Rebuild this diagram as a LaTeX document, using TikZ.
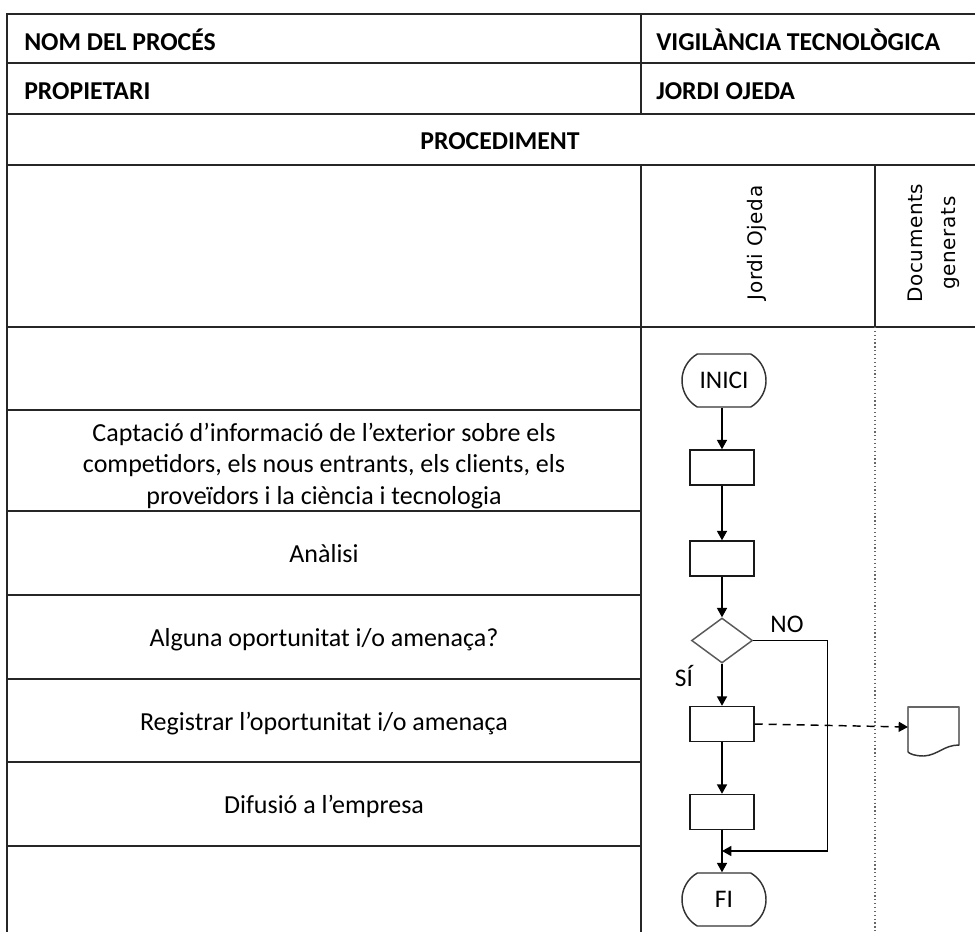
\documentclass[tikz,border=0pt]{standalone}
\usepackage{fontspec}
\setmainfont{Carlito}
\newfontfamily\lanefont[LetterSpace=3]{DejaVu Sans}
\usetikzlibrary{arrows.meta,shapes.geometric,shapes.misc}

\begin{document}
\begin{tikzpicture}[x=0.75pt,y=-0.75pt,
  grid/.style={line width=1.3pt, draw=black!85},
  lanesep/.style={line width=0.9pt, draw=black!60, dotted},
  hdr/.style={font=\fontsize{19.3pt}{22pt}\selectfont\bfseries, inner sep=0pt},
  task/.style={font=\fontsize{19.5pt}{23.6pt}\selectfont, align=center, inner sep=0pt},
  lane/.style={font=\lanefont\fontsize{15pt}{24.75pt}\selectfont, rotate=90, align=center, inner sep=0pt},
  procbox/.style={draw=black!90, line width=1.1pt, rectangle, minimum width=48pt, minimum height=26.25pt, inner sep=0pt},
  termbox/.style={draw=black!80, line width=1.1pt, rounded rectangle, rounded rectangle arc length=120,
    minimum width=63pt, minimum height=39.75pt, inner sep=0pt, font=\fontsize{19pt}{22pt}\selectfont},
  decbox/.style={draw=black!65, line width=1.1pt, diamond, minimum width=45.75pt, minimum height=33.75pt, inner sep=0pt},
  flow/.style={line width=1.1pt, draw=black, -{Triangle[length=7pt,width=7.5pt]}},
  docflow/.style={line width=1.1pt, draw=black, dashed, dash pattern=on 6pt off 4.5pt, -{Triangle[length=7pt,width=7.5pt]}},
  tag/.style={font=\fontsize{19pt}{22pt}\selectfont, inner sep=0pt}
]
\useasboundingbox (0,0) rectangle (975,932);

% ---- table frame ----
\draw[grid] (975,14) -- (7,14) -- (7,932);
\foreach \yy in {63,114,165,327} \draw[grid] (7,\yy) -- (975,\yy);
\draw[grid] (641,14) -- (641,114);
\draw[grid] (641,165) -- (641,932);
\draw[grid] (875,165) -- (875,327);
\draw[lanesep] (875,327) -- (875,932);
\foreach \yy in {410,511,595,679,762,846} \draw[grid] (7,\yy) -- (641,\yy);

% ---- header texts ----
\node[hdr, anchor=base west] (nomlbl) at (24,50) {NOM DEL PROCÉS};
\node[hdr, anchor=base west] (nomval) at (656,50) {VIGILÀNCIA TECNOLÒGICA};
\node[hdr, anchor=base west] (proplbl) at (24,99) {PROPIETARI};
\node[hdr, anchor=base west] (propval) at (656,99) {JORDI OJEDA};
\node[hdr, anchor=base] (proc) at (500,149) {PROCEDIMENT};

% ---- swimlane titles ----
\node[lane] (lane1) at (757,243) {Jordi Ojeda};
\node[lane] (lane2) at (934,243) {Documents\\generats};

% ---- step descriptions ----
\node[task] (t1) at (324,466) {Captació d’informació de l’exterior sobre els\\competidors, els nous entrants, els clients, els\\proveïdors i la ciència i tecnologia};
\node[task, anchor=base] (t2) at (324,562) {Anàlisi};
\node[task, anchor=base] (t3) at (324,646) {Alguna oportunitat i/o amenaça?};
\node[task, anchor=base] (t4) at (324,730) {Registrar l’oportunitat i/o amenaça};
\node[task, anchor=base] (t5) at (324,813) {Difusió a l’empresa};

% ---- flowchart ----
\node[termbox] (ini) at (724,380.5) {INICI};
\node[procbox] (b1) at (722,467.5) {};
\node[procbox] (b2) at (722,558.5) {};
\node[decbox] (dec) at (722,640.5) {};
\node[procbox] (b3) at (722,724) {};
\node[procbox] (b4) at (722,812) {};
\node[termbox] (fi) at (724,899.5) {FI};
\coordinate (merge) at (722,851);
\coordinate (docin) at (908,727);

\node[tag] (notag) at (787,624) {NO};
\node[tag] (sitag) at (684,676) {SÍ};

\draw[flow] (ini.south -| b1.north) -- (b1);
\draw[flow] (b1) -- (b2);
\draw[flow] (b2) -- (dec);
\draw[flow] (dec) -- (b3);
\draw[flow] (b3) -- (b4);
\draw[flow] (b4) -- (fi.north -| b4.south);
\draw[flow] (dec.east) -- ++(74,0) |- (merge);
\draw[docflow] (b3.east) -- (docin);

% document symbol
\draw[line width=1.1pt, draw=black!80]
  (908,752) -- (908,707) -- (959,707) -- (959,745)
  .. controls (944,745) and (938,755) .. (924,756)
  .. controls (915,756) and (910,754) .. (908,752);
\draw[line width=1.8pt, draw=black!60] (908,707) -- (959,707);
\end{tikzpicture}
\end{document}
